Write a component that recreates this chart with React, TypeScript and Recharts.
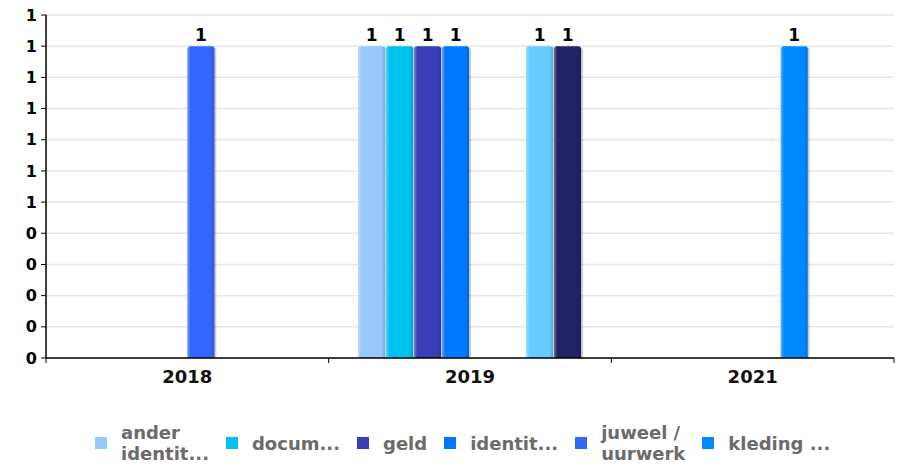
import { Bar, BarChart, CartesianGrid, LabelList, XAxis, YAxis } from "recharts"

const years = ["2018", "2019", "2021"]

const anderIdentiteit = [null, 1, null]
const documenten = [null, 1, null]
const geld = [null, 1, null]
const identiteitskaart = [null, 1, null]
const juweelUurwerk = [1, null, null]
const kleding = [null, null, 1]
const overige = [null, 1, null]
const portefeuille = [null, 1, null]

const yTicks = [0, 0.1, 0.2, 0.3, 0.4, 0.5, 0.6, 0.7, 0.8, 0.9, 1, 1.1]

const series = [
  { key: "ander", label: "ander\nidentit...", values: anderIdentiteit, color: "#99c8ff", legend: true },
  { key: "docum", label: "docum...", values: documenten, color: "#00c2f0", legend: true },
  { key: "geld", label: "geld", values: geld, color: "#3a3db8", legend: true },
  { key: "identit", label: "identit...", values: identiteitskaart, color: "#0078ff", legend: true },
  { key: "juweel", label: "juweel /\nuurwerk", values: juweelUurwerk, color: "#3366ff", legend: true },
  { key: "kleding", label: "kleding ...", values: kleding, color: "#0088ff", legend: true },
  { key: "overige", label: "overige", values: overige, color: "#66ccff", legend: false },
  { key: "portefeuille", label: "portefeuille", values: portefeuille, color: "#222266", legend: false },
]

const data = years.map((year, i) => {
  const row: any = { year }
  series.forEach((s) => {
    row[s.key] = s.values[i]
  })
  return row
})

const font = "'DejaVu Sans', Verdana, sans-serif"

function BarShape(props: any) {
  const { x, y, width, height, fill } = props
  if (!height || height <= 0) return null
  const r = 3
  const path = `M${x},${y + height} L${x},${y + r} Q${x},${y} ${x + r},${y} L${x + width - r},${y} Q${x + width},${y} ${x + width},${y + r} L${x + width},${y + height} Z`
  return (
    <g>
      <rect x={x + 2} y={y + 1} width={width} height={height - 1} rx={3} fill="#000" opacity={0.12} />
      <rect x={x + 1} y={y + 1} width={width + 1} height={height - 1} rx={3} fill="#000" opacity={0.08} />
      <path d={path} fill={fill} />
      <path d={path} fill="url(#barShine)" />
    </g>
  )
}

function ValueLabel(props: any) {
  const { x, y, width, value } = props
  if (value == null) return null
  return (
    <text x={x + width / 2} y={y - 5} textAnchor="middle" fontFamily={font} fontWeight="bold" fontSize={17} fill="#000">
      {value}
    </text>
  )
}

function YearTick(props: any) {
  const { x, y, payload, index, visibleTicksCount } = props
  const off = payload.offset || 0
  return (
    <g>
      <line x1={x - off} x2={x - off} y1={y} y2={y + 5} stroke="#000" />
      {index === visibleTicksCount - 1 && <line x1={x + off} x2={x + off} y1={y} y2={y + 5} stroke="#000" />}
      <text x={x} y={y + 25} textAnchor="middle" fontFamily={font} fontWeight="bold" fontSize={18} fill="#111">
        {payload.value}
      </text>
    </g>
  )
}

function LegendRow() {
  return (
    <div
      style={{
        position: "absolute",
        left: 95,
        top: 422,
        display: "flex",
        alignItems: "center",
        fontFamily: font,
        fontWeight: "bold",
        fontSize: 18,
        color: "#6b6b6b",
        lineHeight: "21px",
      }}
    >
      {series
        .filter((s) => s.legend)
        .map((s) => (
          <div key={s.key} style={{ display: "flex", alignItems: "center", marginRight: 17 }}>
            <div style={{ width: 12, height: 12, background: s.color, marginRight: 14 }} />
            <div style={{ whiteSpace: "pre" }}>{s.label}</div>
          </div>
        ))}
    </div>
  )
}

export default function App() {
  return (
    <div style={{ position: "absolute", left: 0, top: 0, width: 903, height: 465, background: "#fff" }}>
      <BarChart
        width={903}
        height={465}
        data={data}
        margin={{ top: 15, right: 9, left: 0, bottom: 0 }}
        barCategoryGap="10.4%"
        barGap={1}
      >
        <defs>
          <linearGradient id="barShine" x1="0" y1="0" x2="1" y2="0">
            <stop offset="0" stopColor="#fff" stopOpacity={0.35} />
            <stop offset="0.12" stopColor="#fff" stopOpacity={0} />
            <stop offset="0.85" stopColor="#000" stopOpacity={0} />
            <stop offset="1" stopColor="#000" stopOpacity={0.15} />
          </linearGradient>
        </defs>
        <CartesianGrid vertical={false} stroke="#e6e6e6" strokeWidth={1.5} />
        <XAxis
          dataKey="year"
          height={107}
          axisLine={{ stroke: "#000", strokeWidth: 1.5 }}
          tickLine={false}
          tickSize={0}
          tickMargin={0}
          tick={<YearTick />}
          interval={0}
        />
        <YAxis
          width={46}
          domain={[0, 1.1]}
          ticks={yTicks}
          interval={0}
          axisLine={{ stroke: "#000", strokeWidth: 1.5 }}
          tickLine={{ stroke: "#000" }}
          tickSize={5}
          tickMargin={4}
          tickFormatter={(v) => String(Math.round(v))}
          tick={{ fill: "#000", fontFamily: font, fontWeight: "bold", fontSize: 16 }}
        />
        {series.map((s) => (
          <Bar key={s.key} dataKey={s.key} fill={s.color} shape={<BarShape />} isAnimationActive={false}>
            <LabelList dataKey={s.key} content={<ValueLabel />} />
          </Bar>
        ))}
      </BarChart>
      <LegendRow />
    </div>
  )
}
